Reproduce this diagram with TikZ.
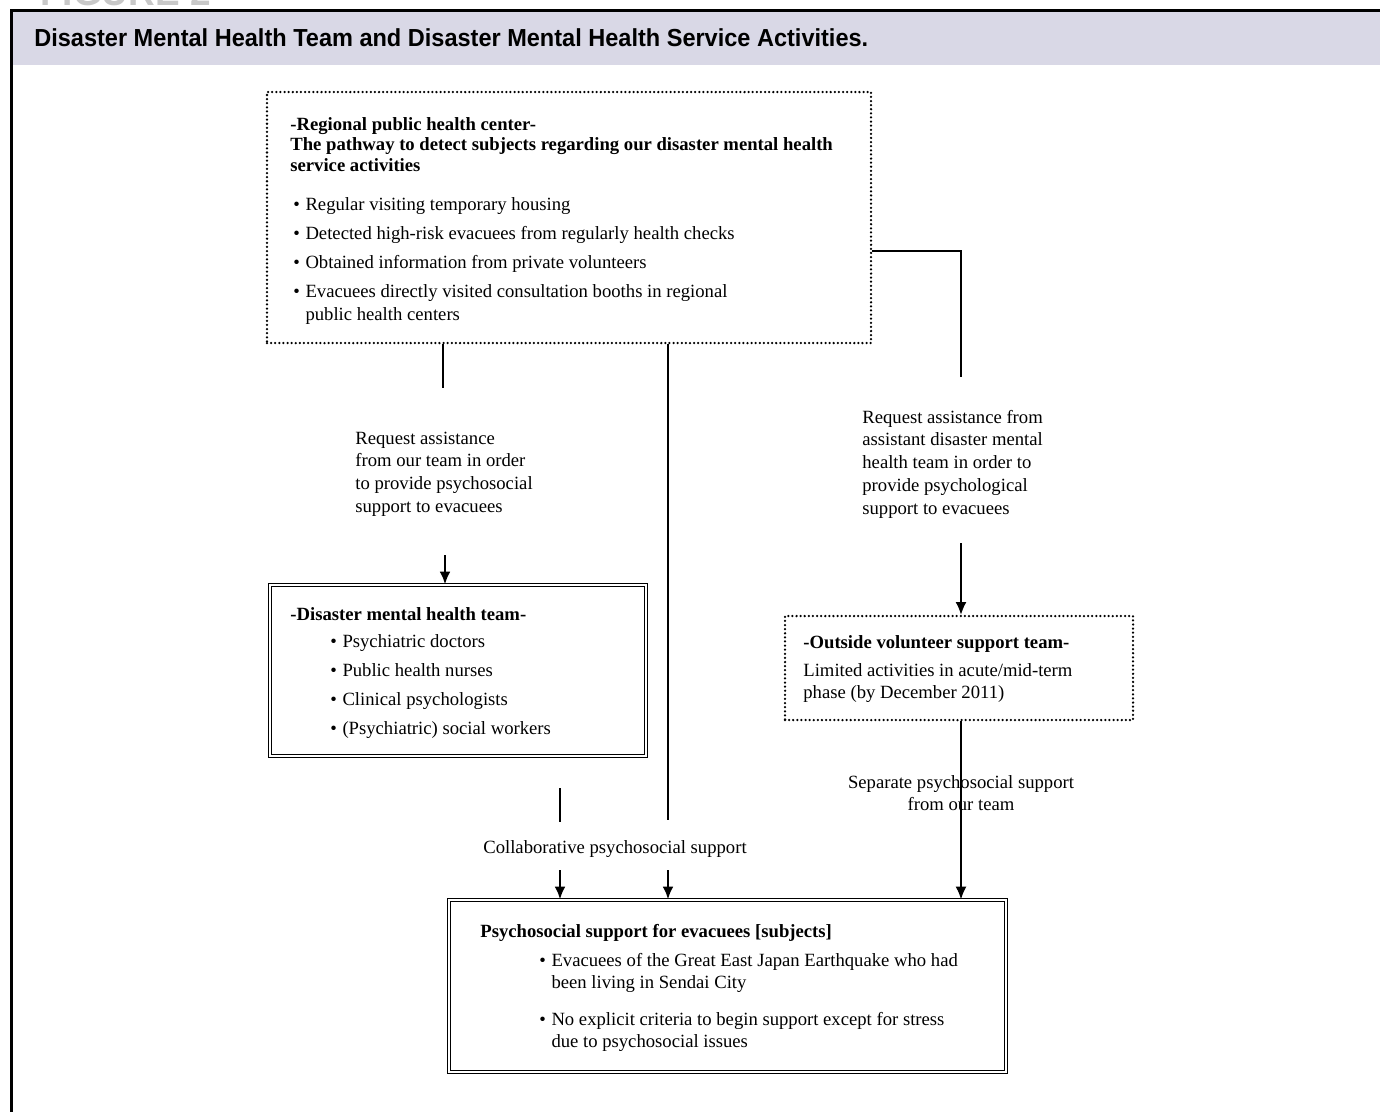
\documentclass[tikz,border=0pt]{standalone}
\usepackage{fontspec}
\setmainfont{Liberation Serif}
\newfontfamily\titlefont[FakeStretch=0.955]{Liberation Sans}
\usetikzlibrary{arrows.meta}

\definecolor{bandgray}{RGB}{217,216,230}
\definecolor{labelgray}{RGB}{200,200,200}
\newdimen\px \px=0.5357pt
\newcommand{\bul}{\textbullet}

\tikzset{
  dotbox/.style={draw, line width=1.35pt, line cap=round, dash pattern=on 0pt off 2.2pt},
  dblbox/.style={draw, double, line width=0.7pt, double distance=1.1pt},
  txt/.style={inner sep=0pt, anchor=base west, font=\fontsize{10}{12.3}\selectfont},
  link/.style={line width=1.1pt},
  thinlink/.style={line width=0.7pt},
  arr/.style={-{Latex[length=6.8pt,width=5.8pt]}},
}

\begin{document}
\begin{tikzpicture}[x=0.5357pt, y=-0.5357pt]
  \useasboundingbox (0,0) rectangle (1380,1111);

  % frame and title band
  \fill[bandgray] (13,12) rectangle (1380,65);
  \draw[line width=1.6pt] (11.5,1120) -- (11.5,10.5) -- (1390,10.5);
  \node[inner sep=0pt, anchor=base west, text=labelgray, font=\titlefont\bfseries\fontsize{20.7}{24}\selectfont] (figlabel) at (40,5) {FIGURE 2};
  \node[inner sep=0pt, anchor=base west, font=\titlefont\bfseries\fontsize{13.2}{16}\selectfont] (title) at (34,46)
    {Disaster Mental Health Team and Disaster Mental Health Service Activities.};

  % boxes
  \node[dotbox, minimum width=604\px, minimum height=251\px] (rphc) at (569,217.5) {};
  \node[dblbox, minimum width=376\px, minimum height=171\px] (team) at (458,670.5) {};
  \node[dotbox, minimum width=348\px, minimum height=104\px] (outside) at (959,668) {};
  \node[dblbox, minimum width=557\px, minimum height=172\px] (support) at (727.5,986) {};

  % box texts
  \node[txt, font=\fontsize{10}{11}\selectfont] (rphchead) at (290,130) {\begin{tabular}[t]{@{}l@{}}
    \textbf{-Regional public health center-}\\
    \textbf{The pathway to detect subjects regarding our disaster mental health}\\
    \textbf{service activities}\end{tabular}};
  \node[txt] (rphclist) at (293,210) {\begin{tabular}[t]{@{}l@{\hspace{3pt}}l@{}}
    \bul & Regular visiting temporary housing\\[3.3pt]
    \bul & Detected high-risk evacuees from regularly health checks\\[3.3pt]
    \bul & Obtained information from private volunteers\\[3.3pt]
    \bul & Evacuees directly visited consultation booths in regional\\
         & public health centers\end{tabular}};

  \node[txt] (teamhead) at (290,620) {\textbf{-Disaster mental health team-}};
  \node[txt] (teamlist) at (330,647) {\begin{tabular}[t]{@{}l@{\hspace{3pt}}l@{}}
    \bul & Psychiatric doctors\\[3.3pt]
    \bul & Public health nurses\\[3.3pt]
    \bul & Clinical psychologists\\[3.3pt]
    \bul & (Psychiatric) social workers\end{tabular}};

  \node[txt] (outsidehead) at (803,648) {\textbf{-Outside volunteer support team-}};
  \node[txt] (outsidetext) at (803,676) {\begin{tabular}[t]{@{}l@{}}
    Limited activities in acute/mid-term\\
    phase (by December 2011)\end{tabular}};

  \node[txt] (supporthead) at (480,937) {\textbf{Psychosocial support for evacuees [subjects]}};
  \node[txt] (supportlist) at (539,966) {\begin{tabular}[t]{@{}l@{\hspace{3pt}}l@{}}
    \bul & Evacuees of the Great East Japan Earthquake who had\\
         & been living in Sendai City\\[7pt]
    \bul & No explicit criteria to begin support except for stress\\
         & due to psychosocial issues\end{tabular}};

  % connector labels
  \node[txt] (reqteam) at (355,444) {\begin{tabular}[t]{@{}l@{}}
    Request assistance\\ from our team in order\\ to provide psychosocial\\ support to evacuees\end{tabular}};
  \node[txt] (reqoutside) at (862,423) {\begin{tabular}[t]{@{}l@{}}
    Request assistance from\\ assistant disaster mental\\ health team in order to\\ provide psychological\\ support to evacuees\end{tabular}};
  \node[txt, anchor=base] (collab) at (615,853) {Collaborative psychosocial support};
  \node[txt, anchor=base] (separate) at (961,788) {\begin{tabular}[t]{@{}c@{}}
    Separate psychosocial support\\ from our team\end{tabular}};

  % connectors
  \coordinate (a1) at (443,388);
  \coordinate (a2) at (445,555);
  \coordinate (b1) at (668,820);
  \coordinate (b2) at (668,870);
  \coordinate (c1) at (560,788);
  \coordinate (c2) at (560,822);
  \coordinate (c3) at (560,870);
  \coordinate (d1) at (961,251);
  \coordinate (d2) at (961,377);
  \coordinate (d3) at (961,543);

  \draw[link] (rphc.south -| a1) -- (a1);
  \draw[link, arr] (a2) -- (team.north -| a2);
  \draw[link] (rphc.south -| b1) -- (b1);
  \draw[link, arr] (b2) -- (support.north -| b2);
  \draw[link] (c1) -- (c2);
  \draw[link, arr] (c3) -- (support.north -| c3);
  \draw[thinlink] (rphc.east |- d1) -- (d1) -- (d2);
  \draw[thinlink, arr] (d3) -- (outside.north -| d3);
  \draw[thinlink, arr] (outside.south -| d3) -- (support.north -| d3);
\end{tikzpicture}
\end{document}
